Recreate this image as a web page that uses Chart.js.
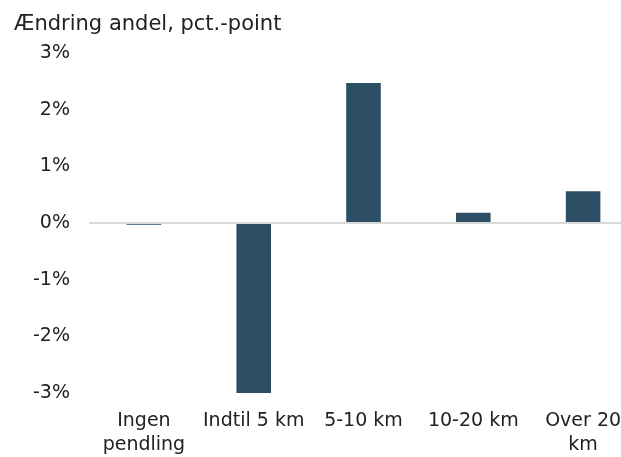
<!DOCTYPE html>
<html>
<head>
<meta charset="utf-8">
<script src="https://cdn.jsdelivr.net/npm/chart.js@4/dist/chart.umd.min.js"></script>
<style>
  html, body { margin: 0; padding: 0; background: #fff; overflow: hidden; }
  #wrap { width: 640px; height: 457px; position: relative; }
</style>
</head>
<body>
<div id="wrap"><canvas id="pendlingChart"></canvas></div>
<script>
// data
const categories = [["Ingen", "pendling"], "Indtil 5 km", "5-10 km", "10-20 km", ["Over 20", "km"]];
const changeValues = [-0.03, -3.03, 2.47, 0.18, 0.56];
const yTicks = [-3, -2, -1, 0, 1, 2, 3];
const titleText = "Ændring andel, pct.-point";

const fontFamily = "'DejaVu Sans', sans-serif";

// title drawn top-left like the original
const titlePlugin = {
    id: "cornerTitle",
    afterDraw(chart) {
        const ctx = chart.ctx;
        ctx.save();
        ctx.font = "21px " + fontFamily;
        ctx.fillStyle = "#222";
        ctx.textBaseline = "alphabetic";
        ctx.fillText(titleText, 14, 30);
        ctx.restore();
    }
};

new Chart(document.getElementById("pendlingChart"), {
    type: "bar",
    data: {
        labels: categories,
        datasets: [{
            data: changeValues,
            backgroundColor: "#2c4f65",
            borderWidth: 0,
            categoryPercentage: 1,
            barPercentage: 0.315
        }]
    },
    options: {
        responsive: true,
        maintainAspectRatio: false,
        animation: false,
        layout: { padding: { top: 53, right: 2, left: 0, bottom: 0 } },
        plugins: {
            legend: { display: false },
            tooltip: { enabled: false }
        },
        scales: {
            x: {
                grid: { display: false },
                border: { display: false },
                ticks: {
                    color: "#222",
                    font: { family: fontFamily, size: 19, lineHeight: 1.27 },
                    padding: 8,
                    maxRotation: 0,
                    autoSkip: false
                },
                afterFit(scale) { scale.height = 64; }
            },
            y: {
                min: -3,
                max: 3,
                afterBuildTicks(scale) {
                    scale.ticks = yTicks.map(v => ({ value: v }));
                },
                grid: {
                    drawTicks: false,
                    lineWidth: 2,
                    color: ctx => ctx.tick && ctx.tick.value === 0 ? "#d9d9d9" : "rgba(0,0,0,0)"
                },
                border: { display: false },
                ticks: {
                    color: "#222",
                    font: { family: fontFamily, size: 19 },
                    padding: 19,
                    callback: v => v + "%"
                },
                afterFit(scale) { scale.width = 89; }
            }
        }
    },
    plugins: [titlePlugin]
});
</script>
</body>
</html>
